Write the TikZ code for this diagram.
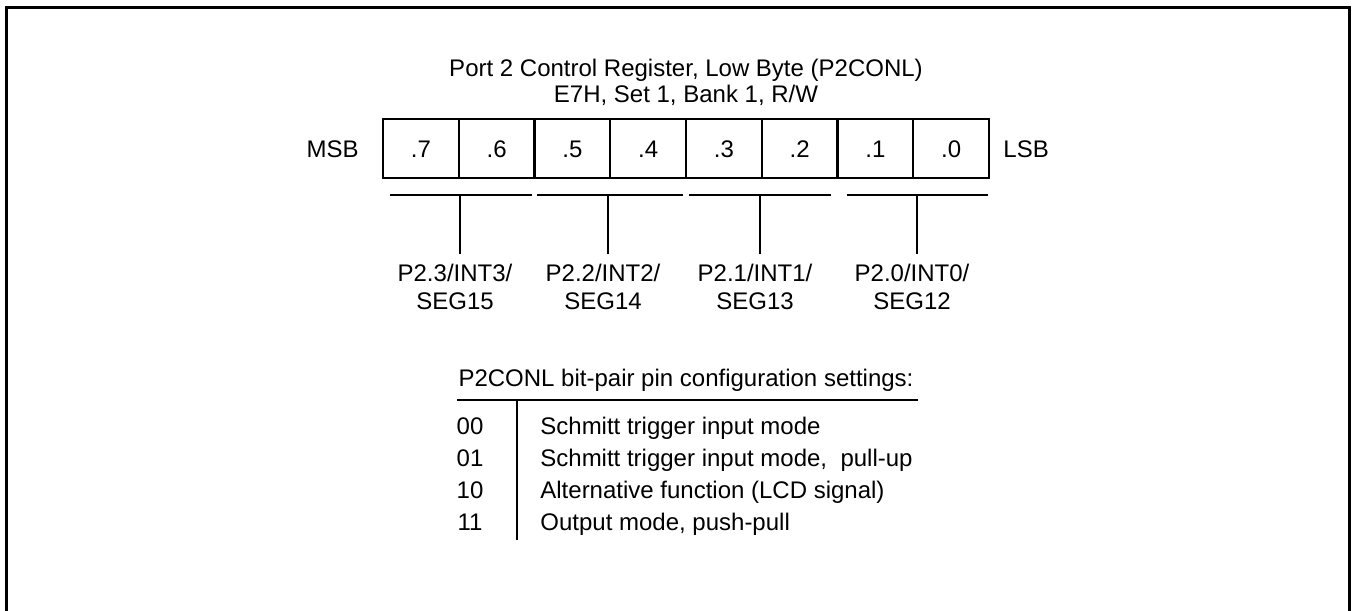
\documentclass[tikz,border=0pt]{standalone}
\usepackage{fontspec}
\setmainfont{Liberation Sans}
\usetikzlibrary{positioning}

\begin{document}
\begin{tikzpicture}[x=0.5pt, y=-0.5pt,
  txt/.style={inner sep=0pt, text height=8.6pt, text depth=0pt, font=\fontsize{12}{14}\selectfont},
  cell/.style={txt, draw, line width=1pt, minimum width=37.9pt, minimum height=29.5pt},
  pinlbl/.style={inner sep=0pt, align=center, font=\fontsize{12}{14}\selectfont},
  rule/.style={line width=1pt}]
  \useasboundingbox (0,0) rectangle (1356,611);
  \draw[line width=1.5pt] (6,611) -- (6,7) -- (1349,7) -- (1349,611);

  % Title
  \node[pinlbl, font=\fontsize{12}{13}\selectfont] (title) at (686,82)
    {Port 2 Control Register, Low Byte (P2CONL)\\E7H, Set 1, Bank 1, R/W};

  % Register bits
  \foreach \b [count=\i from 0] in {7,...,0}
    \node[cell] (c\b) at ({383+75.75*(\i+0.5)},148.5) {.\b};
  \node[txt, left=11.5pt of c7] (msb) {MSB};
  \node[txt, right=6.5pt of c0] (lsb) {LSB};

  % Bit pairs
  \foreach \xa/\xb/\xs/\k/\seg in {390/532/460/3/15, 537/683/608/2/14, 689/831/760/1/13, 847/988/917/0/12} {
    \coordinate (b\k) at (\xs,195);
    \node[pinlbl] (pin\k) at (\xs-5,287) {P2.\k/INT\k/\\SEG\seg};
    \draw[rule] (\xa,195) -- (\xb,195);
    \draw[rule] (b\k) -- ++(0,59);
  }

  % Settings table
  \node[txt] (hdr) at (686,378) {P2CONL bit-pair pin configuration settings:};
  \coordinate (tl) at (457,400);
  \coordinate (tr) at (918,400);
  \coordinate (st) at (517,400);
  \coordinate (sb) at (517,540);
  \draw[rule] (tl) -- (tr);
  \draw[rule] (st) -- (sb);
  \foreach \code/\desc [count=\i from 0] in {00/Schmitt trigger input mode,
      01/{Schmitt trigger input mode,\ \ pull-up},
      10/Alternative function (LCD signal),
      11/{Output mode, push-pull}} {
    \node[txt] (code\code) at (470,426+32*\i) {\code};
    \node[txt, anchor=west] (desc\code) at (540,426+32*\i) {\desc};
  }
\end{tikzpicture}
\end{document}
